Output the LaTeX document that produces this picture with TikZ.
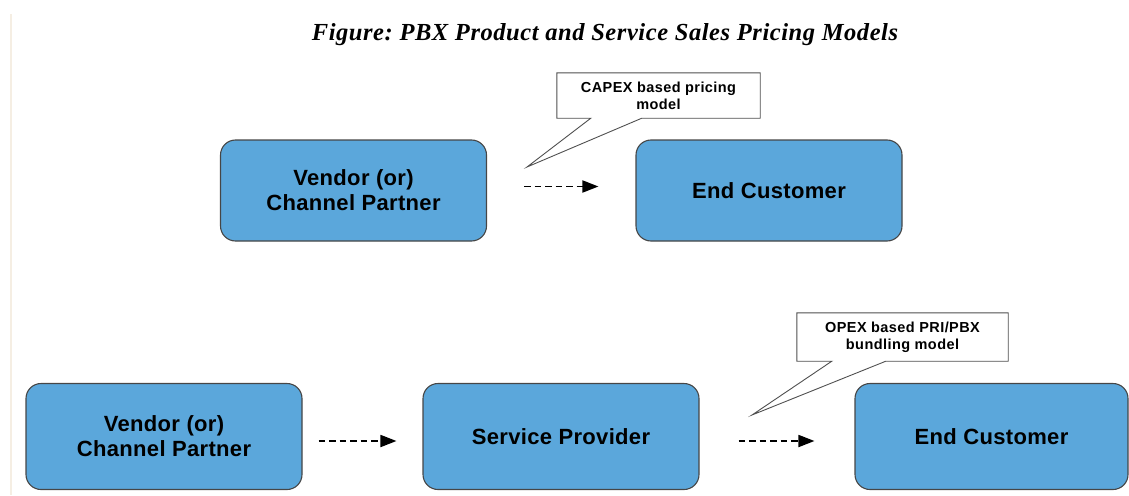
\documentclass[tikz,border=0pt]{standalone}
\usepackage{fontspec}
\setmainfont{Liberation Serif}
\newfontfamily\boxfont{Liberation Sans}[LetterSpace=1.5]
\newfontfamily\notefont{Liberation Sans}[LetterSpace=3]
\newfontfamily\titlefont{Liberation Serif}[LetterSpace=2.3]
\usetikzlibrary{arrows.meta,backgrounds}
\frenchspacing
\definecolor{boxblue}{RGB}{91,167,219}
\definecolor{boxline}{RGB}{70,70,70}
\definecolor{noteline}{RGB}{80,80,80}
\definecolor{margin}{RGB}{245,238,227}
\tikzset{
  stage/.style={draw=boxline, line width=1.1pt, fill=boxblue, rounded corners=15pt,
    minimum width=#1, minimum height=101pt, inner sep=0pt, align=center,
    font=\boxfont\bfseries\fontsize{22}{25}\selectfont},
  stage/.default=266pt,
  flow/.style={line width=1.8pt, dash pattern=on 6.5pt off 4pt,
    -{Triangle[length=16pt,width=12pt]}},
  note/.style={inner sep=0pt, align=center,
    font=\notefont\bfseries\fontsize{14.5}{17}\selectfont},
  noteedge/.style={draw=noteline, line width=0.9pt, fill=white}
}
\begin{document}
\begin{tikzpicture}[x=1pt,y=-1pt]
\useasboundingbox (0,0) rectangle (1129,495);
\draw[margin, line width=1.5pt] (11,14) -- (11,495);

% title
\node[font=\titlefont\bfseries\itshape\fontsize{24.5}{28}\selectfont] (title) at (605,35)
  {Figure: PBX Product and Service Sales Pricing Models};

% CAPEX chain
\node[stage] (v1) at (353.5,190.5) {Vendor (or)\\Channel Partner};
\node[stage] (c1) at (769,190.5) {End Customer};
\draw[flow] ([shift={(37pt,4pt)}]v1.east) -- ([shift={(-37pt,4pt)}]c1.west);

% OPEX chain
\node[stage=276pt, minimum height=106pt] (v2) at (164,436.5) {Vendor (or)\\Channel Partner};
\node[stage=276pt, minimum height=106pt] (sp) at (561,436.5) {Service Provider};
\node[stage=273pt, minimum height=106pt] (c2) at (991.5,436.5) {End Customer};
\draw[flow] ([shift={(16pt,-4.5pt)}]v2.east) -- ([shift={(-26pt,-4.5pt)}]sp.west);
\draw[flow] ([shift={(39pt,-4.5pt)}]sp.east) -- ([shift={(-40pt,-4.5pt)}]c2.west);

% callouts
\node[note, minimum width=203pt, minimum height=45pt] (k1) at (658.5,95.5)
  {CAPEX based pricing\\model};
\coordinate (k1tip) at (527,167);
\node[note, minimum width=211pt, minimum height=48pt] (k2) at (902.5,337)
  {OPEX based PRI/PBX\\bundling model};
\coordinate (k2tip) at (752,415);
\begin{scope}[on background layer]
  \draw[noteedge] (k1.north west) -- (k1.north east) -- (k1.south east)
    -- ([xshift=85pt]k1.south west) -- (k1tip) -- ([xshift=34pt]k1.south west)
    -- (k1.south west) -- cycle;
  \draw[noteedge] (k2.north west) -- (k2.north east) -- (k2.south east)
    -- ([xshift=89pt]k2.south west) -- (k2tip) -- ([xshift=35pt]k2.south west)
    -- (k2.south west) -- cycle;
\end{scope}
\end{tikzpicture}
\end{document}
